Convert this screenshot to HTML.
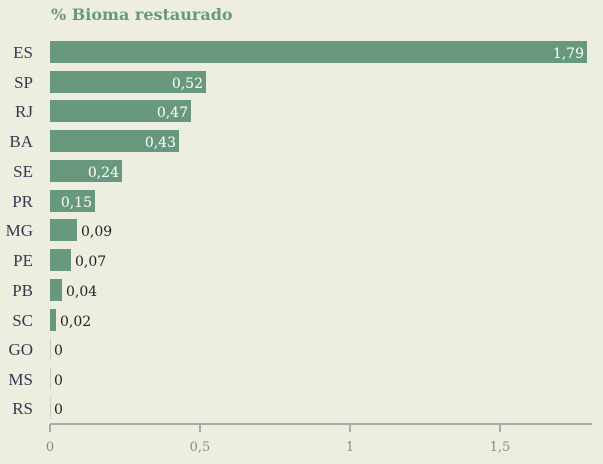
<!DOCTYPE html>
<html><head><meta charset="utf-8"><style>
html,body{margin:0;padding:0;background:#eeeee0;}
svg{display:block;font-family:"DejaVu Serif","Liberation Serif",serif;}
</style></head><body>
<svg width="603" height="464" viewBox="0 0 603 464">
<rect width="603" height="464" fill="#eeeee0"/>
<text x="51" y="20" font-size="16" font-weight="bold" fill="#68997f">% Bioma restaurado</text>
<g font-size="17" fill="#333a4e" text-anchor="end" style="font-family:'Liberation Serif',serif">
<text x="33" y="58">ES</text><text x="33" y="88">SP</text><text x="33" y="117">RJ</text><text x="33" y="147">BA</text><text x="33" y="177">SE</text><text x="33" y="207">PR</text><text x="33" y="236">MG</text><text x="33" y="266">PE</text><text x="33" y="296">PB</text><text x="33" y="326">SC</text><text x="33" y="355">GO</text><text x="33" y="385">MS</text><text x="33" y="414">RS</text>
</g>
<g fill="#68997f">
<rect x="50" y="41" width="537" height="22"/>
<rect x="50" y="71" width="156" height="22"/>
<rect x="50" y="100" width="141" height="22"/>
<rect x="50" y="130" width="129" height="22"/>
<rect x="50" y="160" width="72" height="22"/>
<rect x="50" y="190" width="45" height="22"/>
<rect x="50" y="219" width="27" height="22"/>
<rect x="50" y="249" width="21" height="22"/>
<rect x="50" y="279" width="12" height="22"/>
<rect x="50" y="309" width="6" height="22"/>
</g>
<g stroke="#c8cfc0" stroke-width="1">
<line x1="50.5" y1="338" x2="50.5" y2="360"/><line x1="50.5" y1="368" x2="50.5" y2="390"/><line x1="50.5" y1="397" x2="50.5" y2="419"/>
</g>
<g font-size="14" fill="#ffffff" text-anchor="end">
<text x="584" y="58">1,79</text><text x="203" y="88">0,52</text><text x="188" y="117">0,47</text><text x="176" y="147">0,43</text><text x="119" y="177">0,24</text><text x="92" y="207">0,15</text>
</g>
<g font-size="14" fill="#222">
<text x="81" y="236">0,09</text><text x="75" y="266">0,07</text><text x="66" y="296">0,04</text><text x="60" y="326">0,02</text><text x="54" y="355">0</text><text x="54" y="385">0</text><text x="54" y="414">0</text>
</g>
<line x1="50" y1="424" x2="592" y2="424" stroke="#aaaaaa" stroke-width="2"/>
<g stroke="#aaaaaa" stroke-width="2">
<line x1="50" y1="424" x2="50" y2="432"/><line x1="200" y1="424" x2="200" y2="432"/><line x1="350" y1="424" x2="350" y2="432"/><line x1="500" y1="424" x2="500" y2="432"/>
</g>
<g font-size="13" fill="#8a8a8a" text-anchor="middle">
<text x="50" y="451">0</text><text x="200" y="451">0,5</text><text x="350" y="451">1</text><text x="500" y="451">1,5</text>
</g>
</svg>
</body></html>
